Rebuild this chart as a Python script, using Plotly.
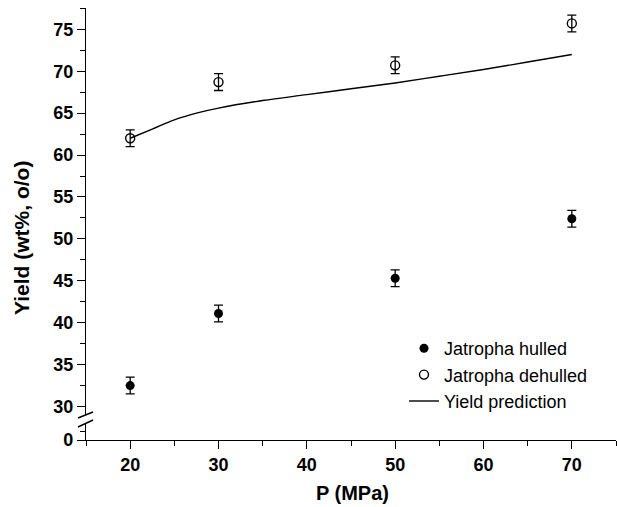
import plotly.graph_objects as go

# Extraction pressure (MPa) and measured oil yields (wt%)
pressure = [20, 30, 50, 70]
yield_hulled = [32.5, 41.1, 45.3, 52.4]
err_hulled = [1.0, 1.0, 1.0, 1.0]
yield_dehulled = [62.0, 68.7, 70.7, 75.7]
err_dehulled = [1.0, 1.0, 1.0, 1.0]

# Model prediction curve for dehulled seeds
pred_p = [20, 22.5, 25, 27.5, 30, 35, 40, 45, 50, 55, 60, 65, 70]
pred_yield = [62.0, 63.1, 64.2, 65.0, 65.6, 66.5, 67.2, 67.9, 68.6, 69.4, 70.2, 71.1, 72.0]

FONT = "Arial, Liberation Sans, sans-serif"
W, H = 617, 507
L, R, T, B = 86, 1, 8, 67
plot_w = W - L - R
plot_h = H - T - B

def px_x(p):
    return (p - L) / plot_w

def px_y(p):
    return (H - B - p) / plot_h

fig = go.Figure()

fig.add_trace(go.Scatter(
    x=pressure, y=yield_hulled, mode="markers", name="Jatropha hulled",
    marker=dict(symbol="circle", size=9, color="black"),
    error_y=dict(type="data", array=err_hulled, color="black", thickness=1.3, width=4.5),
))
fig.add_trace(go.Scatter(
    x=pressure, y=yield_dehulled, mode="markers", name="Jatropha dehulled",
    marker=dict(symbol="circle-open", size=9, color="black", line=dict(width=1.4)),
    error_y=dict(type="data", array=err_dehulled, color="black", thickness=1.3, width=4.5),
))
fig.add_trace(go.Scatter(
    x=pred_p, y=pred_yield, mode="lines", name="Yield prediction",
    line=dict(color="black", width=1.4, shape="spline"),
))
# empty trace so the lower (0) segment of the broken axis gets its own subplot
fig.add_trace(go.Scatter(x=[], y=[], xaxis="x", yaxis="y2", showlegend=False,
                         hoverinfo="skip"))

# upper and lower y-segments separated by an axis break
upper_bottom = px_y(415)
lower_top = px_y(423)

tick_font = dict(family=FONT, size=18, color="black", weight="bold")
axis_common = dict(showline=True, linecolor="black", linewidth=1.4, ticks="outside",
                   ticklen=8, tickwidth=1.4, tickcolor="black", showgrid=False,
                   zeroline=False, tickfont=tick_font)

fig.update_layout(
    width=W, height=H,
    margin=dict(l=L, r=R, t=T, b=B),
    paper_bgcolor="white", plot_bgcolor="white",
    showlegend=True,
    legend=dict(x=px_x(404), y=px_y(330), xanchor="left", yanchor="top",
                font=dict(family=FONT, size=18, color="black"),
                bgcolor="rgba(0,0,0,0)", tracegroupgap=0),
    xaxis=dict(range=[15, 75], tick0=0, dtick=10, anchor="y2",
               minor=dict(dtick=5, tick0=0, ticks="outside", ticklen=5, tickwidth=1.4, tickcolor="black"),
               **axis_common),
    yaxis=dict(range=[28.99, 77.54], domain=[upper_bottom, 1], tick0=0, dtick=5, anchor="x",
               minor=dict(dtick=2.5, tick0=0, ticks="outside", ticklen=5, tickwidth=1.4, tickcolor="black"),
               **axis_common),
    yaxis2=dict(range=[0, 2], domain=[0, lower_top], tickvals=[0], anchor="x",
                minor=dict(tickvals=[1], ticks="outside", ticklen=5, tickwidth=1.4, tickcolor="black"),
                **axis_common),
)

# axis titles
fig.add_annotation(text="P (MPa)", x=px_x(352), y=px_y(493), xref="paper", yref="paper",
                   xanchor="center", yanchor="middle", showarrow=False,
                   font=dict(family=FONT, size=20, color="black", weight="bold"))
fig.add_annotation(text="Yield (wt%, o/o)", x=px_x(21), y=px_y(238), xref="paper", yref="paper",
                   xanchor="center", yanchor="middle", textangle=-90, showarrow=False,
                   font=dict(family=FONT, size=21, color="black", weight="bold"))

# break marks on the y-axis
for (x0, y0, x1, y1) in [(78, 418, 93, 412), (78, 427, 93, 420)]:
    fig.add_shape(type="line", xref="paper", yref="paper",
                  x0=px_x(x0), y0=px_y(y0), x1=px_x(x1), y1=px_y(y1),
                  line=dict(color="black", width=1.4))

fig.write_html("out.html")
